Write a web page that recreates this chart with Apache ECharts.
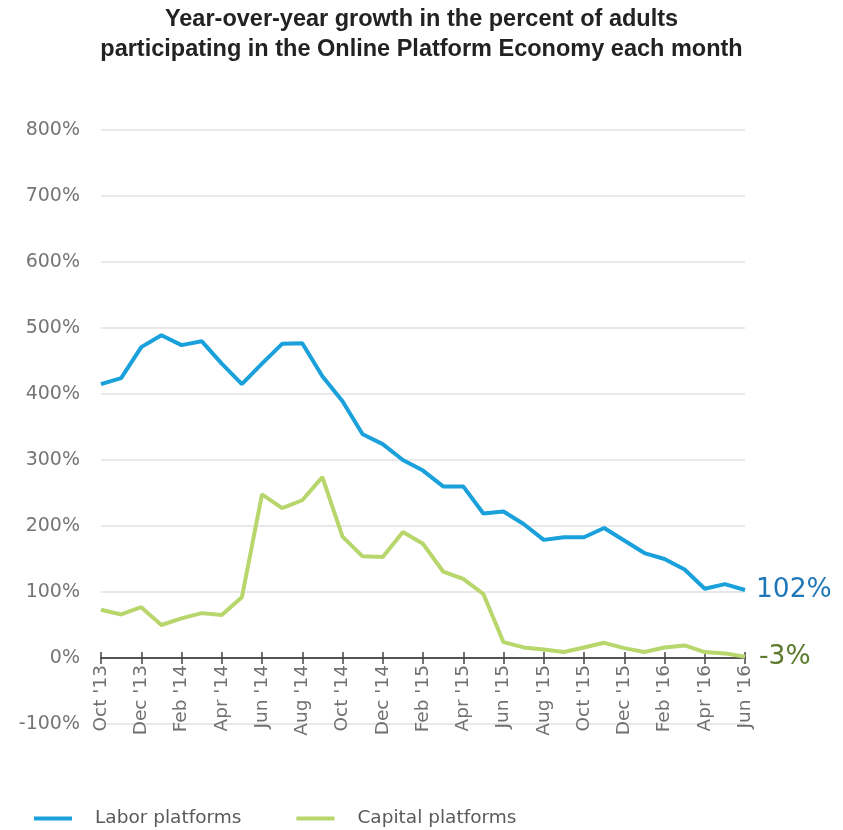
<!DOCTYPE html>
<html>
<head>
<meta charset="utf-8">
<script src="https://cdn.jsdelivr.net/npm/echarts@6/dist/echarts.min.js"></script>
<style>html,body{margin:0;padding:0;background:#fff}#c{width:843px;height:830px}</style>
</head>
<body>
<div id="c"></div>
<script>
var months = ["Oct '13","Nov '13","Dec '13","Jan '14","Feb '14","Mar '14","Apr '14","May '14","Jun '14","Jul '14","Aug '14","Sep '14","Oct '14","Nov '14","Dec '14","Jan '15","Feb '15","Mar '15","Apr '15","May '15","Jun '15","Jul '15","Aug '15","Sep '15","Oct '15","Nov '15","Dec '15","Jan '16","Feb '16","Mar '16","Apr '16","May '16","Jun '16"];
var labor = [415,424,471,489,474,480,446,415,446,476,477,427,389,339,324,300,284,260,260,219,222,203,179,183,183,197,178,159,150,134,105,112,103];
var capital = [73,66,77,50,60,68,65,92,248,227,239,274,184,154,153,191,173,131,120,97,24,16,13,9,16,23,15,9,16,19,9,7,2];
var laborEnd = "102%";
var capitalEnd = "-3%";
var yTicks = [-100, 800, 100];

var chart = echarts.init(document.getElementById('c'));
var font = "'DejaVu Sans', sans-serif";
// 900% over 594px -> 66px per 100%; zero line sits 66px above grid bottom
var zeroOffset = -66;
chart.setOption({
  animation: false,
  title: {
    text: "Year-over-year growth in the percent of adults\nparticipating in the Online Platform Economy each month",
    left: 'center', top: 0,
    textStyle: {fontFamily: "'Liberation Sans Narrow', 'Liberation Sans', sans-serif", fontWeight: 'bold', fontSize: 23.5, lineHeight: 30, color: '#222'}
  },
  legend: {
    left: 29, top: 804, itemWidth: 38, itemHeight: 4, itemGap: 55,
    icon: 'rect',
    textStyle: {fontFamily: font, fontSize: 18.5, color: '#5a5a5a', padding: [0,0,0,18]},
    data: ['Labor platforms', 'Capital platforms']
  },
  grid: {left: 101, right: 98, top: 130, bottom: 106, containLabel: false},
  xAxis: [{
    type: 'category', data: months, boundaryGap: false, offset: zeroOffset,
    axisLine: {onZero: false, lineStyle: {color: '#555', width: 2}},
    axisTick: {show: true, interval: 1, length: 6, lineStyle: {color: '#444', width: 1.5}},
    axisLabel: {interval: 1, rotate: 90, color: '#707070', fontFamily: font, fontSize: 18.5, margin: 7},
    splitLine: {show: false}
  }, {
    type: 'category', data: months, boundaryGap: false, position: 'bottom', offset: zeroOffset,
    axisLine: {show: false, onZero: false},
    axisTick: {show: true, inside: true, interval: 1, length: 6, lineStyle: {color: '#444', width: 1.5}},
    axisLabel: {show: false}, splitLine: {show: false}
  }],
  yAxis: {
    type: 'value', min: yTicks[0], max: yTicks[1], interval: yTicks[2],
    axisLine: {show: false}, axisTick: {show: false},
    axisLabel: {formatter: '{value}%', color: '#757575', fontFamily: font, fontSize: 19, margin: 21},
    splitLine: {lineStyle: {color: '#e0e0e0', width: 1.5}}
  },
  series: [{
    name: 'Labor platforms', type: 'line', data: labor, symbol: 'none',
    lineStyle: {color: '#1aa0da', width: 4}, itemStyle: {color: '#1aa0da'},
    endLabel: {show: true, formatter: laborEnd, color: '#1f77b8', fontFamily: font, fontSize: 26.5, distance: 11}
  }, {
    name: 'Capital platforms', type: 'line', data: capital, symbol: 'none',
    lineStyle: {color: '#b7d66b', width: 4}, itemStyle: {color: '#b7d66b'},
    endLabel: {show: true, formatter: capitalEnd, color: '#5b7a2b', fontFamily: font, fontSize: 26.5, distance: 14}
  }]
});
</script>
</body>
</html>
